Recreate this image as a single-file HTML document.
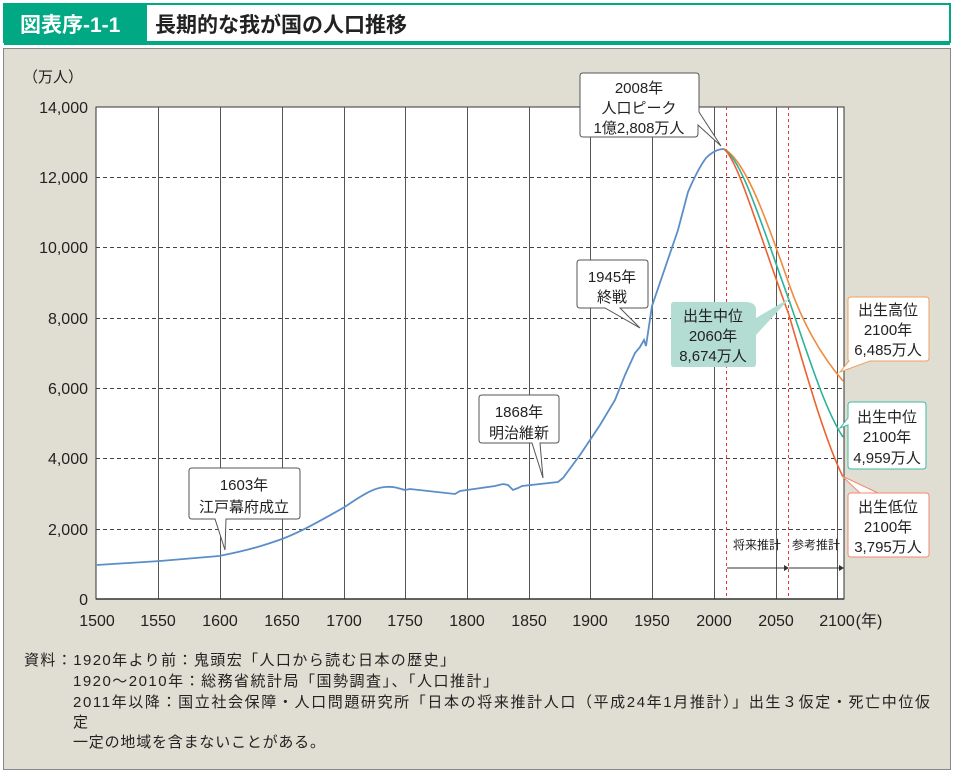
<!DOCTYPE html>
<html><head><meta charset="utf-8"><style>
body{margin:0;width:956px;height:776px;background:#fff;overflow:hidden;font-family:"Liberation Sans","Noto Sans CJK JP",sans-serif;}
</style></head><body>
<svg width="956" height="776" xmlns="http://www.w3.org/2000/svg" font-family="Liberation Sans, Noto Sans CJK JP, sans-serif">
<!-- header -->
<rect x="4" y="4" width="946" height="38" fill="#fff" stroke="#00a984" stroke-width="2"/>
<rect x="5" y="5" width="142" height="36" fill="#00a984"/>
<text x="20" y="32" font-size="21" font-weight="bold" fill="#fff">図表序-1-1</text>
<text x="155" y="32" font-size="21" font-weight="bold" fill="#222">長期的な我が国の人口推移</text>
<line x1="4" y1="44" x2="950" y2="44" stroke="#00a984" stroke-width="2"/>
<!-- frame -->
<rect x="3.5" y="48.5" width="947" height="721" fill="#e0ded2" stroke="#888" stroke-width="1"/>
<!-- plot -->
<rect x="96" y="107" width="748" height="492" fill="#fff" stroke="#333" stroke-width="1"/>
<g stroke="#444" stroke-width="1" stroke-dasharray="4,3">
<line x1="96" y1="177.5" x2="844" y2="177.5"/><line x1="96" y1="247.5" x2="844" y2="247.5"/>
<line x1="96" y1="318.5" x2="844" y2="318.5"/><line x1="96" y1="388.5" x2="844" y2="388.5"/>
<line x1="96" y1="458.5" x2="844" y2="458.5"/><line x1="96" y1="529.5" x2="844" y2="529.5"/>
</g>
<g stroke="#555" stroke-width="1">
<line x1="158.5" y1="107" x2="158.5" y2="599"/><line x1="220.5" y1="107" x2="220.5" y2="599"/>
<line x1="282.5" y1="107" x2="282.5" y2="599"/><line x1="344.5" y1="107" x2="344.5" y2="599"/>
<line x1="405.5" y1="107" x2="405.5" y2="599"/><line x1="467.5" y1="107" x2="467.5" y2="599"/>
<line x1="529.5" y1="107" x2="529.5" y2="599"/><line x1="590.5" y1="107" x2="590.5" y2="599"/>
<line x1="652.5" y1="107" x2="652.5" y2="599"/><line x1="714.5" y1="107" x2="714.5" y2="599"/>
<line x1="776.5" y1="107" x2="776.5" y2="599"/><line x1="837.5" y1="107" x2="837.5" y2="599"/>
</g>
<line x1="96" y1="599" x2="844" y2="599" stroke="#333" stroke-width="1.5"/>
<g stroke="#e33" stroke-width="1" stroke-dasharray="3,3">
<line x1="726.5" y1="107" x2="726.5" y2="599"/><line x1="788.5" y1="107" x2="788.5" y2="599"/>
</g>
<!-- arrows -->
<g stroke="#333" stroke-width="1"><line x1="727" y1="568" x2="784" y2="568"/><line x1="789" y1="568" x2="840" y2="568"/></g>
<polygon points="784,565 789,568 784,571" fill="#333"/><polygon points="839,565 844,568 839,571" fill="#333"/>
<text x="733" y="549" font-size="12" fill="#222">将来推計</text>
<text x="792" y="549" font-size="12" fill="#222">参考推計</text>
<!-- y labels -->
<g font-size="16" fill="#222" text-anchor="end">
<text x="83" y="82" font-size="15">（万人）</text>
<text x="88" y="113">14,000</text><text x="88" y="183">12,000</text><text x="88" y="253">10,000</text>
<text x="88" y="324">8,000</text><text x="88" y="394">6,000</text><text x="88" y="464">4,000</text>
<text x="88" y="535">2,000</text><text x="88" y="605">0</text>
</g>
<g font-size="16" fill="#222" text-anchor="middle">
<text x="97" y="626">1500</text><text x="158" y="626">1550</text><text x="220" y="626">1600</text>
<text x="282" y="626">1650</text><text x="344" y="626">1700</text><text x="405" y="626">1750</text>
<text x="467" y="626">1800</text><text x="529" y="626">1850</text><text x="590" y="626">1900</text>
<text x="652" y="626">1950</text><text x="714" y="626">2000</text><text x="776" y="626">2050</text>
<text x="837" y="626">2100</text><text x="869" y="626">(年)</text>
</g>
<!-- series -->
<path d="M97,565 L160,561 L219,556 C250,550 265,545 282,539 C305,530 325,518 343,508 C360,497 372,488 385,487 C395,486 400,489 405,490 L410,489 L455,494 L460,491 L495,486 L503,484 L508,485 L513,490 L518,488 L522,486 L558,482 L563,478 L580,455 L600,425 L615,400 L625,375 L635,353 L640,347 L644,340 L646,346 L652,306 L665,268 L678,230 L688,192 C694,178 700,166 706,158 C712,152 718,149 724,149" fill="none" stroke="#5b8ec8" stroke-width="1.8"/>
<path d="M724,149 C745,160 765,215 789,284 C805,330 825,360 843,381" fill="none" stroke="#f08a3c" stroke-width="1.6"/>
<path d="M724,149 C742,160 760,220 789,300 C808,355 825,410 843,437" fill="none" stroke="#2bb39a" stroke-width="1.6"/>
<path d="M724,149 C738,160 756,225 789,315 C808,380 825,440 843,477" fill="none" stroke="#ec6332" stroke-width="1.6"/>
<!-- callouts -->
<g font-size="15" fill="#222" text-anchor="middle">
<path d="M192,468 H297 Q300,468 300,471 V516 Q300,519 297,519 H226 L225,550 L215,519 H192 Q189,519 189,516 V471 Q189,468 192,468 Z" fill="#fff" stroke="#555"/>
<text x="244" y="490">1603年</text><text x="244" y="512">江戸幕府成立</text>
<path d="M482,395 H556 Q559,395 559,398 V440 Q559,443 556,443 H540 L543,478 L532,443 H482 Q479,443 479,440 V398 Q479,395 482,395 Z" fill="#fff" stroke="#555"/>
<text x="519" y="417">1868年</text><text x="519" y="438">明治維新</text>
<path d="M580,260 H645 Q648,260 648,263 V305 Q648,308 645,308 H620 L640,328 L605,308 H580 Q577,308 577,305 V263 Q577,260 580,260 Z" fill="#fff" stroke="#555"/>
<text x="612" y="282">1945年</text><text x="612" y="302">終戦</text>
<path d="M583,73 H696 Q699,73 699,76 V112 L721,146 L698,125 V133 Q698,137 695,137 H583 Q580,137 580,134 V76 Q580,73 583,73 Z" fill="#fff" stroke="#555"/>
<text x="639" y="93">2008年</text><text x="639" y="113">人口ピーク</text><text x="639" y="133">1億2,808万人</text>
<path d="M674,302 H745 Q756,302 756,310 V318 L790,298 L756,335 V364 Q756,367 753,367 H674 Q671,367 671,364 V305 Q671,302 674,302 Z" fill="#b3ddd2"/>
<text x="713" y="321">出生中位</text><text x="713" y="341">2060年</text><text x="713" y="361">8,674万人</text>
<path d="M851,297 H926 Q929,297 929,300 V358 Q929,361 926,361 H870 L840,372 L849,361 Q848,361 848,358 V300 Q848,297 851,297 Z" fill="#fff" stroke="#f0a060"/>
<text x="888" y="315">出生高位</text><text x="888" y="335">2100年</text><text x="888" y="355">6,485万人</text>
<path d="M851,402 H923 Q926,402 926,405 V466 Q926,469 923,469 H851 Q848,469 848,466 V425 L840,428 L848,418 V405 Q848,402 851,402 Z" fill="#fff" stroke="#3bbba5"/>
<text x="887" y="422">出生中位</text><text x="887" y="442">2100年</text><text x="887" y="463">4,959万人</text>
<path d="M851,493 H926 Q929,493 929,496 V554 Q929,557 926,557 H851 Q848,557 848,554 V496 Q848,493 851,493 H860 L842,476 L878,493 Z" fill="#fff" stroke="#f08a70"/>
<text x="888" y="512">出生低位</text><text x="888" y="532">2100年</text><text x="888" y="552">3,795万人</text>
</g>
<!-- notes -->
<g font-size="15" fill="#222">
<text x="24" y="665" textLength="431" lengthAdjust="spacing">資料：1920年より前：鬼頭宏「人口から読む日本の歴史」</text>
<text x="73" y="686" textLength="425" lengthAdjust="spacing">1920～2010年：総務省統計局「国勢調査」、「人口推計」</text>
<text x="73" y="707" textLength="857" lengthAdjust="spacing">2011年以降：国立社会保障・人口問題研究所「日本の将来推計人口（平成24年1月推計）」出生３仮定・死亡中位仮</text>
<text x="73" y="727">定</text>
<text x="73" y="747" textLength="252" lengthAdjust="spacing">一定の地域を含まないことがある。</text>
</g>
</svg>
</body></html>
